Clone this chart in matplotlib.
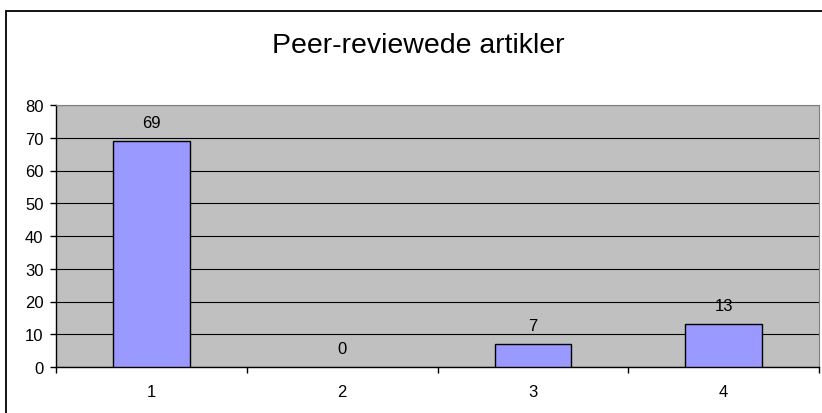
import matplotlib.pyplot as plt
from matplotlib.patches import Rectangle
from matplotlib.ticker import FixedLocator

plt.rcParams["font.family"] = ["Liberation Sans", "DejaVu Sans"]

# data
categories = ["1", "2", "3", "4"]
values = [69, 0, 7, 13]
y_ticks = [0, 10, 20, 30, 40, 50, 60, 70, 80]
title = "Peer-reviewede artikler"

fig = plt.figure(figsize=(8.22, 4.14), dpi=100)
fig.patch.set_facecolor("white")

# outer chart border (Excel style)
fig.patches.append(Rectangle((6 / 822, -0.05), 1.2, (414 - 12) / 414 + 0.05,
                             transform=fig.transFigure, fill=False,
                             edgecolor="black", linewidth=1.3))

ax = fig.add_axes([56 / 822, 46 / 414, 763 / 822, 262 / 414])
ax.set_facecolor("#C0C0C0")

x = list(range(len(categories)))
bars = ax.bar(x, values, width=0.4, color="#9999FF", edgecolor="black",
              linewidth=1.0, zorder=3)
# zero-height bars draw nothing in the original
for b, v in zip(bars, values):
    if v == 0:
        b.set_linewidth(0)

for xi, v in zip(x, values):
    ax.annotate(str(v), (xi, v), xytext=(0, 13.5), textcoords="offset points",
                ha="center", va="center", fontsize=12, color="black", zorder=4)

ax.set_xlim(-0.5, len(categories) - 0.5)
ax.set_ylim(0, 80)
ax.set_yticks(y_ticks)
ax.set_yticklabels([str(t) for t in y_ticks], fontsize=12)
ax.yaxis.grid(True, color="black", linewidth=0.8, zorder=1)
ax.set_axisbelow(True)

ax.set_xticks(x)
ax.set_xticklabels(categories, fontsize=12)
ax.xaxis.set_minor_locator(FixedLocator([i - 0.5 for i in range(len(categories) + 1)]))
ax.tick_params(axis="x", which="major", length=0, pad=12)
ax.tick_params(axis="x", which="minor", length=4, width=1, direction="out")
ax.tick_params(axis="y", length=4, width=1, direction="out", pad=5)

for side in ["left", "bottom"]:
    ax.spines[side].set_color("black")
    ax.spines[side].set_linewidth(1.0)
for side in ["top", "right"]:
    ax.spines[side].set_color("#808080")
    ax.spines[side].set_linewidth(0.8)

fig.text(418 / 822, (414 - 46) / 414, title, ha="center", va="center",
         fontsize=20.5, color="black")

fig.savefig("out.png", dpi=100)
